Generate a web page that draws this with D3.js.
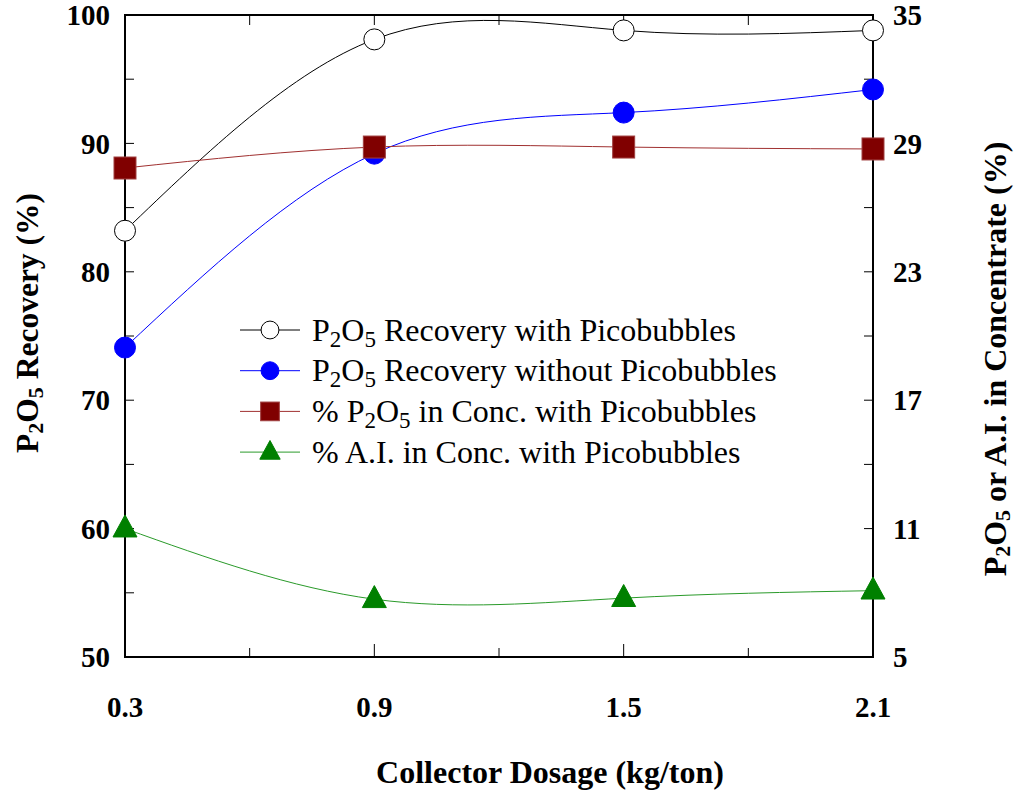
<!DOCTYPE html>
<html>
<head>
<meta charset="utf-8">
<script src="https://cdn.jsdelivr.net/npm/d3@7"></script>
<style>
  body { margin: 0; background: #fff; }
  svg { display: block; }
</style>
</head>
<body>
<script>
// data
var dosage = [0.3, 0.9, 1.5, 2.1];
var recoveryWith = [83.2, 98.1, 98.8, 98.8];      // left axis
var recoveryWithout = [74.1, 89.2, 92.4, 94.2];   // left axis
var p2o5Conc = [27.85, 28.83, 28.83, 28.74];      // right axis
var aiConc = [11.0, 7.7, 7.75, 8.1];              // right axis
var xTicks = [0.3, 0.9, 1.5, 2.1];
var leftTicks = [50, 60, 70, 80, 90, 100];
var rightTicks = [5, 11, 17, 23, 29, 35];

var FONT = 'Liberation Serif';

var svgWidth = 1018, svgHeight = 795;
var margin = { top: 15, right: 145, bottom: 138, left: 125 };
var chartWidth = svgWidth - margin.left - margin.right;
var chartHeight = svgHeight - margin.top - margin.bottom;

var svg = d3.select('body').append('svg')
  .attr('width', svgWidth)
  .attr('height', svgHeight)
  .attr('font-family', FONT)
  .style('font-family', FONT);

var g = svg.append('g')
  .attr('transform', `translate(${margin.left}, ${margin.top})`);

var x = d3.scaleLinear().domain([0.3, 2.1]).range([0, chartWidth]);
var yLeft = d3.scaleLinear().domain([50, 100]).range([chartHeight, 0]);
var yRight = d3.scaleLinear().domain([5, 35]).range([chartHeight, 0]);

// ticks (all drawn inward)
var xMinor = d3.range(0.3, 2.101, 0.3);
var leftMinor = d3.range(50, 100.1, 5);
var rightMinor = d3.range(5, 35.1, 3);

var tickG = g.append('g').attr('stroke', '#000').attr('stroke-width', 1);
xMinor.forEach(function(v, i) {
  var len = (i % 2 === 0) ? 13 : 9;
  tickG.append('line').attr('x1', x(v)).attr('x2', x(v))
    .attr('y1', chartHeight).attr('y2', chartHeight - len);
  tickG.append('line').attr('x1', x(v)).attr('x2', x(v))
    .attr('y1', 0).attr('y2', 10);
});
leftMinor.forEach(function(v) {
  tickG.append('line').attr('x1', 0).attr('x2', 9)
    .attr('y1', yLeft(v)).attr('y2', yLeft(v));
});
rightMinor.forEach(function(v) {
  tickG.append('line').attr('x1', chartWidth).attr('x2', chartWidth - 9)
    .attr('y1', yRight(v)).attr('y2', yRight(v));
});

g.append('rect')
  .attr('width', chartWidth).attr('height', chartHeight)
  .attr('fill', 'none').attr('stroke', '#000').attr('stroke-width', 2);

function txt(sel) {
  return sel.append('text').attr('font-family', FONT).style('font-family', FONT);
}

// tick labels
xTicks.forEach(function(d) {
  txt(g).attr('x', x(d)).attr('y', chartHeight + 60)
    .attr('text-anchor', 'middle').attr('font-size', 29).attr('font-weight', 'bold')
    .text(d.toFixed(1));
});
leftTicks.forEach(function(d) {
  txt(g).attr('x', -15).attr('y', yLeft(d)).attr('dy', '0.35em')
    .attr('text-anchor', 'end').attr('font-size', 29).attr('font-weight', 'bold')
    .text(d);
});
rightTicks.forEach(function(d) {
  txt(g).attr('x', chartWidth + 20).attr('y', yRight(d)).attr('dy', '0.35em')
    .attr('text-anchor', 'start').attr('font-size', 29).attr('font-weight', 'bold')
    .text(d);
});

// axis titles
txt(svg)
  .attr('x', 550).attr('y', 783)
  .attr('text-anchor', 'middle').attr('font-size', 32).attr('font-weight', 'bold')
  .text('Collector Dosage (kg/ton)');

function chemTitle(t, lead, rest, sub, off) {
  if (lead) t.append('tspan').text(lead);
  t.append('tspan').text('P');
  t.append('tspan').attr('font-size', sub).attr('dy', off).text('2');
  t.append('tspan').attr('dy', -off).text('O');
  t.append('tspan').attr('font-size', sub).attr('dy', off).text('5');
  t.append('tspan').attr('dy', -off).text(rest);
}

var leftTitle = txt(svg)
  .attr('transform', 'translate(38, 323) rotate(-90)')
  .attr('text-anchor', 'middle').attr('font-size', 31.5).attr('font-weight', 'bold');
chemTitle(leftTitle, null, ' Recovery (%)', 22, 5);

var rightTitle = txt(svg)
  .attr('transform', 'translate(1006, 359) rotate(-90)')
  .attr('text-anchor', 'middle').attr('font-size', 32).attr('font-weight', 'bold');
chemTitle(rightTitle, null, ' or A.I. in Concentrate (%)', 22, 4);

// series
var series = [
  { vals: recoveryWith, y: yLeft, line: '#000', fill: '#fff', stroke: '#000', shape: 'circle' },
  { vals: recoveryWithout, y: yLeft, line: '#0000ff', fill: '#0000ff', stroke: '#0000ff', shape: 'circle' },
  { vals: p2o5Conc, y: yRight, line: '#a03030', fill: '#800000', stroke: '#a04040', shape: 'square' },
  { vals: aiConc, y: yRight, line: '#2a9a2a', fill: '#008000', stroke: '#008000', shape: 'triangle' }
];

function drawMarker(sel, shape, cx, cy, s, fill, stroke) {
  if (shape === 'circle') {
    sel.append('circle').attr('cx', cx).attr('cy', cy).attr('r', 10.5 * s)
      .attr('fill', fill).attr('stroke', stroke).attr('stroke-width', 1);
  } else if (shape === 'square') {
    var h = 11 * s;
    sel.append('rect').attr('x', cx - h).attr('y', cy - h)
      .attr('width', 2 * h).attr('height', 2 * h)
      .attr('fill', fill).attr('stroke', stroke).attr('stroke-width', 1);
  } else {
    var w = 12 * s, ht = 22 * s;
    sel.append('path')
      .attr('d', `M${cx},${cy - ht * 0.62}L${cx + w},${cy + ht * 0.38}L${cx - w},${cy + ht * 0.38}Z`)
      .attr('fill', fill).attr('stroke', stroke).attr('stroke-width', 1);
  }
}

series.forEach(function(s) {
  var line = d3.line()
    .x((d, i) => x(dosage[i]))
    .y(d => s.y(d))
    .curve(d3.curveNatural);
  g.append('path').datum(s.vals)
    .attr('d', line)
    .attr('fill', 'none').attr('stroke', s.line).attr('stroke-width', 1);
});
series.forEach(function(s) {
  var mg = g.append('g');
  s.vals.forEach(function(v, i) {
    drawMarker(mg, s.shape, x(dosage[i]), s.y(v), 1, s.fill, s.stroke);
  });
});

// legend
var legend = svg.append('g').attr('transform', 'translate(240, 330)');
series.forEach(function(s, i) {
  var ly = i * 40.7;
  legend.append('line').attr('x1', 0).attr('x2', 60).attr('y1', ly).attr('y2', ly)
    .attr('stroke', s.line).attr('stroke-width', 1);
  drawMarker(legend, s.shape, 30, ly, 0.85, s.fill, s.stroke);
  var t = txt(legend)
    .attr('x', 72).attr('y', ly)
    .attr('dy', '0.33em')
    .attr('font-size', 32);
  if (i === 0) chemTitle(t, null, ' Recovery with Picobubbles', 23, 6);
  else if (i === 1) chemTitle(t, null, ' Recovery without Picobubbles', 23, 6);
  else if (i === 2) chemTitle(t, '% ', ' in Conc. with Picobubbles', 23, 6);
  else t.text('% A.I. in Conc. with Picobubbles');
});
</script>
</body>
</html>
